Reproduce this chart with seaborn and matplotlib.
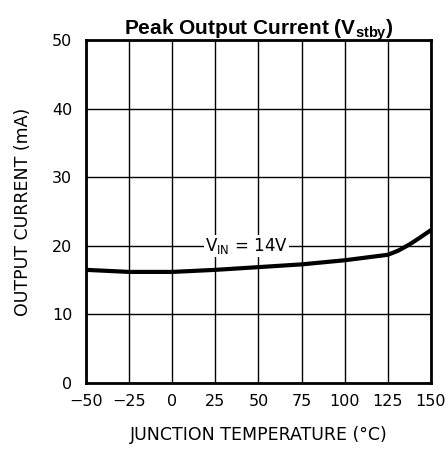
import matplotlib
matplotlib.use('Agg')
import matplotlib.pyplot as plt
import seaborn as sns
import pandas as pd

# Curve values
temperature = [-50, -25, 0, 25, 50, 75, 100, 125, 131, 137.5, 143, 150]
current_ma = [16.5, 16.2, 16.2, 16.5, 16.9, 17.3, 17.9, 18.7, 19.3, 20.2, 21.1, 22.3]
x_ticks = [-50, -25, 0, 25, 50, 75, 100, 125, 150]
y_ticks = [0, 10, 20, 30, 40, 50]

sns.set_theme(style='white')
plt.rcParams['font.family'] = ['Liberation Sans Narrow', 'DejaVu Sans']
plt.rcParams['text.color'] = 'black'

df = pd.DataFrame({'temp': temperature, 'current': current_ma})

fig, ax = plt.subplots(figsize=(4.48, 4.57), dpi=100)
fig.subplots_adjust(left=0.192, right=0.962, top=0.912, bottom=0.162)

sns.lineplot(data=df, x='temp', y='current', ax=ax, color='black', linewidth=3)

ax.set_xlim(-50, 150)
ax.set_ylim(0, 50)
ax.set_xticks(x_ticks)
ax.set_yticks(y_ticks)
ax.grid(True, color='black', linewidth=1)
ax.set_axisbelow(True)
for s in ax.spines.values():
    s.set_color('black')
    s.set_linewidth(2)
ax.tick_params(axis='x', length=0, labelsize=11.5, colors='black', pad=8)
ax.tick_params(axis='y', length=0, labelsize=11.5, colors='black', pad=10)

ax.text(43, 20, r'V$_{\mathregular{IN}}$ = 14V', ha='center', va='center', fontsize=12,
        bbox=dict(facecolor='white', edgecolor='none', pad=1))

ax.set_xlabel('JUNCTION TEMPERATURE (°C)', fontsize=12.5, labelpad=12, color='black')
ax.set_ylabel('OUTPUT CURRENT (mA)', fontsize=12.5, labelpad=14, color='black')
ax.set_title(r'Peak Output Current (V$_{\mathregular{stby}}$)', fontsize=15,
             fontweight='bold', family=['Liberation Sans'], color='black', pad=4)

fig.savefig('out.png', dpi=100)
